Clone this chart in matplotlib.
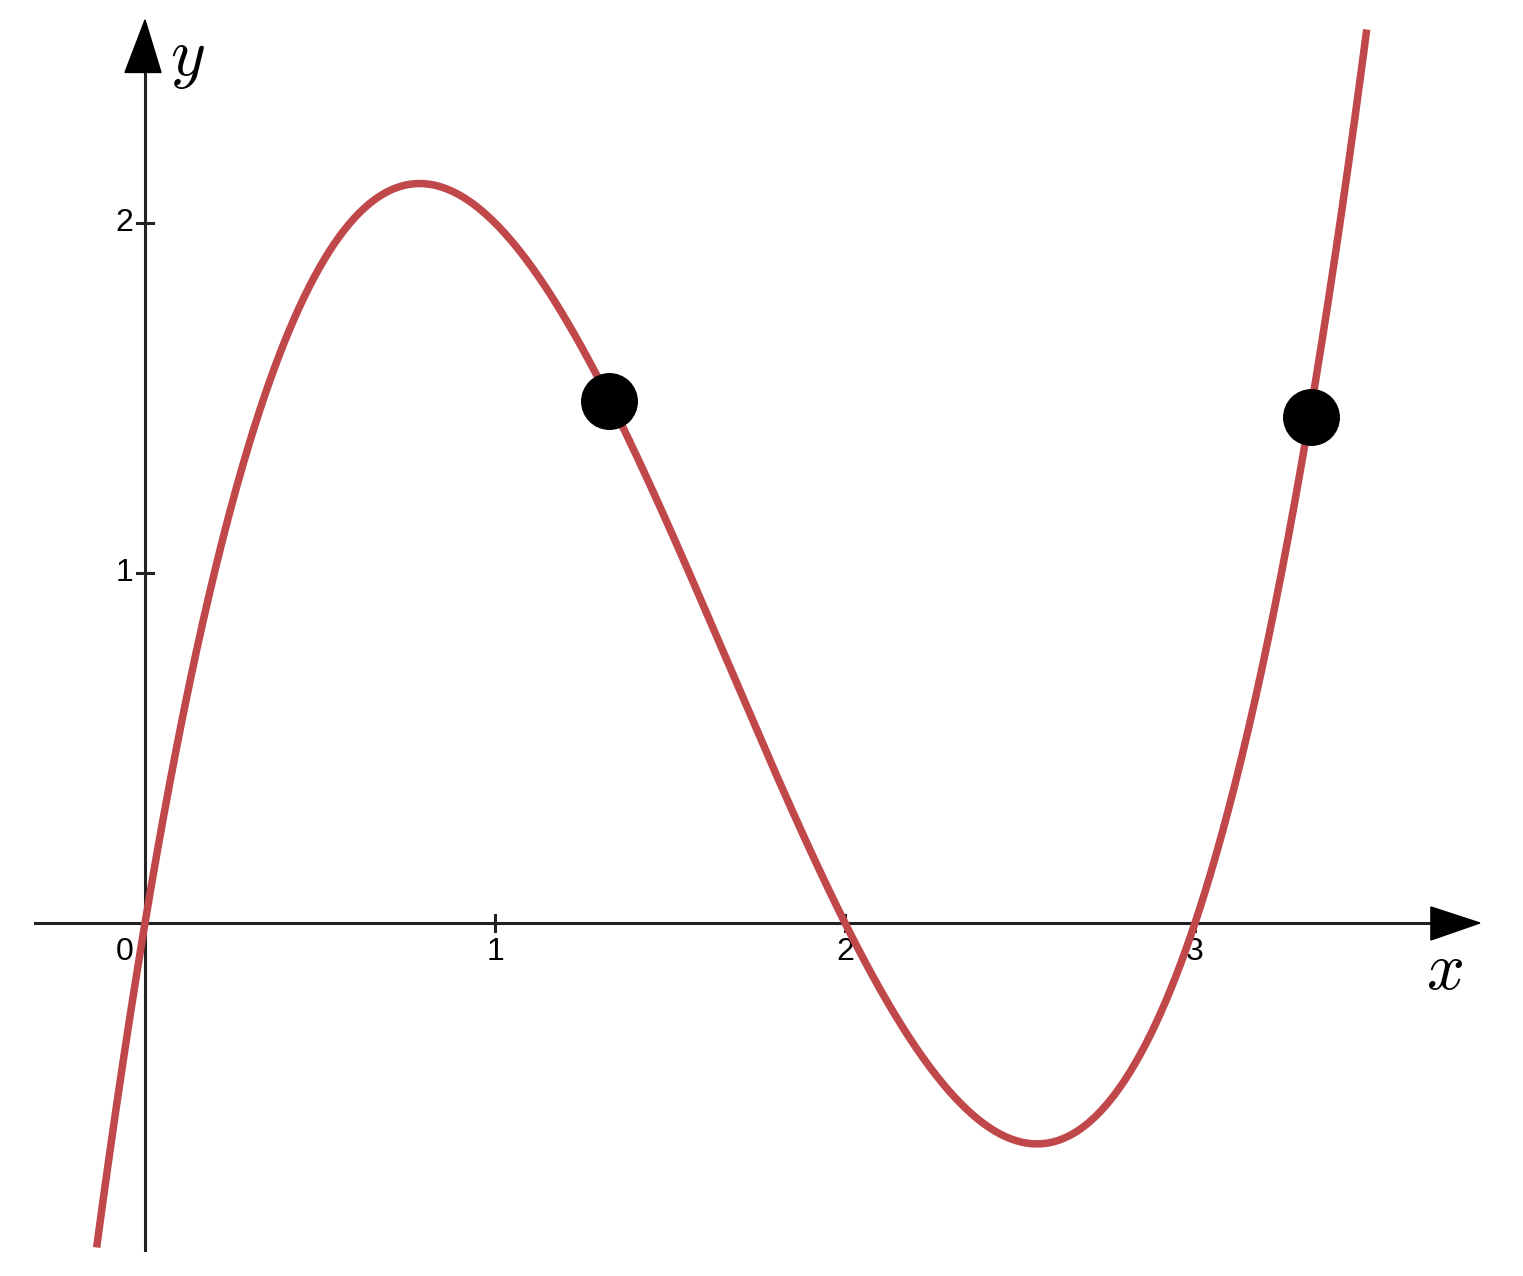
import numpy as np
import matplotlib.pyplot as plt
from matplotlib.patches import Polygon

# cubic: crosses the x axis at 0, 2 and 3
roots = [0, 2, 3]
x_ticks = [1, 2, 3]
y_ticks = [1, 2]
# the two marked points
pts_x = [1.326, 3.331]
pts_y = [1.49, 1.445]

coef = np.poly(roots)

fig = plt.figure(figsize=(15.23, 12.76), dpi=100)
ax = fig.add_axes([0, 0, 1, 1])
ax.set_xlim(-0.4143, 3.9371)
ax.set_ylim(-1.0086, 2.637)
ax.axis('off')

px = 1 / 350.0  # one pixel in data units

# axes
ax.plot([-0.314, 3.68], [0, 0], color='#222222', lw=2.2, zorder=1)
ax.plot([0, 0], [-0.934, 2.45], color='#222222', lw=2.2, zorder=1)
ax.add_patch(Polygon([[3.674, 16*px], [3.674, -17*px], [3.814, 0]], closed=True, color='black', zorder=2))
ax.add_patch(Polygon([[-20*px, 2.43], [16*px, 2.43], [0, 2.58]], closed=True, color='black', zorder=2))

# ticks
for t in x_ticks:
    ax.plot([t, t], [-8*px, 8*px], color='#222222', lw=2.2, zorder=1)
    ax.text(t, -29*px, str(t), ha='center', va='center', fontsize=23, family='Liberation Sans')
for t in y_ticks:
    ax.plot([-8*px, 8*px], [t, t], color='#222222', lw=2.2, zorder=1)
    ax.text(-12*px, t, str(t), ha='right', va='center', fontsize=23, family='Liberation Sans')
ax.text(-12*px, -29*px, '0', ha='right', va='center', fontsize=23, family='Liberation Sans')

plt.rcParams['mathtext.fontset'] = 'cm'
ax.text(3.714, -0.135, '$x$', ha='center', va='center', fontsize=48)
ax.text(0.12, 2.47, '$y$', ha='center', va='center', fontsize=48)

# curve
xs = np.linspace(-0.2, 3.6, 800)
ys = np.polyval(coef, xs)
mask = (ys > -0.95) & (ys < 2.58)
ax.plot(xs[mask], ys[mask], color='#C0474A', lw=5.4, solid_capstyle='butt', zorder=3)

ax.plot(pts_x, pts_y, 'o', color='black', markersize=40, zorder=4)

fig.savefig('out.png', dpi=100)
